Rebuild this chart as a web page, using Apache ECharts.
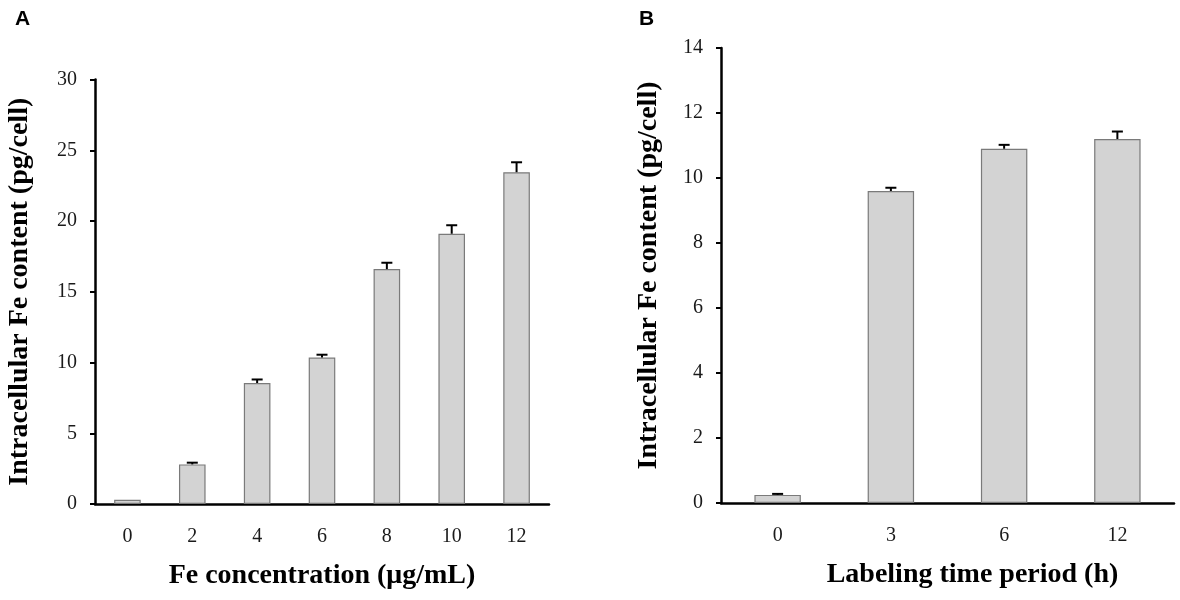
<!DOCTYPE html>
<html>
<head>
<meta charset="utf-8">
<script src="https://cdn.jsdelivr.net/npm/echarts@6/dist/echarts.min.js"></script>
<style>
  html, body { margin: 0; padding: 0; background: #fff; }
  #chart { width: 1180px; height: 600px; }
</style>
</head>
<body>
<div id="chart"></div>
<script>
// panel A: Fe concentration
var concLabels = ['0', '2', '4', '6', '8', '10', '12'];
var concMean = [0.3, 2.8, 8.55, 10.35, 16.6, 19.1, 23.45];
var concErr = [0, 0.12, 0.25, 0.2, 0.45, 0.6, 0.7];

// panel B: labeling time
var timeLabels = ['0', '3', '6', '12'];
var timeMean = [0.25, 9.6, 10.9, 11.2];
var timeErr = [0.03, 0.1, 0.12, 0.23];

var serif = '"Liberation Serif", "Times New Roman", serif';

function errData(mean, err) {
  var out = [];
  for (var i = 0; i < mean.length; i++) {
    out.push([i, mean[i], mean[i] + err[i]]);
  }
  return out;
}

function renderErr(params, api) {
  var lo = api.coord([api.value(0), api.value(1)]);
  var hi = api.coord([api.value(0), api.value(2)]);
  if (hi[1] >= lo[1] - 0.5) return;
  var half = 5.5;
  return {
    type: 'group',
    children: [
      { type: 'line', shape: { x1: lo[0], y1: lo[1], x2: hi[0], y2: hi[1] },
        style: { stroke: '#000', lineWidth: 2 } },
      { type: 'line', shape: { x1: hi[0] - half, y1: hi[1], x2: hi[0] + half, y2: hi[1] },
        style: { stroke: '#000', lineWidth: 2 } }
    ]
  };
}

function xAxisFor(idx, labels, name, pad) {
  return {
    type: 'category',
    gridIndex: idx,
    data: labels,
    name: name,
    nameLocation: 'middle',
    nameGap: 58,
    nameTextStyle: { fontFamily: serif, fontWeight: 'bold', fontSize: 28, color: '#000', padding: pad },
    axisLine: { lineStyle: { color: '#000', width: 2.5 } },
    axisTick: { show: false },
    axisLabel: { fontFamily: serif, fontSize: 20, color: '#1a1a1a', margin: 23 },
    splitLine: { show: false }
  };
}

function yAxisFor(idx, max, interval, gap) {
  return {
    type: 'value',
    gridIndex: idx,
    min: 0,
    max: max,
    interval: interval,
    name: 'Intracellular Fe content (pg/cell)',
    nameLocation: 'middle',
    nameGap: gap,
    nameTextStyle: { fontFamily: serif, fontWeight: 'bold', fontSize: 28, color: '#000' },
    axisLine: { show: true, lineStyle: { color: '#000', width: 2.5 } },
    axisTick: { show: true, inside: false, length: 5, lineStyle: { color: '#000', width: 2 } },
    axisLabel: { fontFamily: serif, fontSize: 20, color: '#1a1a1a', margin: 18 },
    splitLine: { show: false }
  };
}

var barStyle = { color: '#d3d3d3', borderColor: '#7a7a7a', borderWidth: 1.2 };

var myChart = echarts.init(document.getElementById('chart'));
var option = {
  backgroundColor: '#fff',
  animation: false,
  title: [
    { text: 'A', left: 10, top: 4, textStyle: { fontFamily: '"Liberation Sans", Arial, sans-serif', fontWeight: 'bold', fontSize: 21, color: '#000' } },
    { text: 'B', left: 634, top: 4, textStyle: { fontFamily: '"Liberation Sans", Arial, sans-serif', fontWeight: 'bold', fontSize: 21, color: '#000' } }
  ],
  grid: [
    { left: 95, right: 631, top: 79.5, bottom: 96 },
    { left: 721, right: 6, top: 48, bottom: 97 }
  ],
  xAxis: [
    xAxisFor(0, concLabels, 'Fe concentration (μg/mL)', [0, 0, 0, 0]),
    xAxisFor(1, timeLabels, 'Labeling time period (h)', [0, 0, 0, 50])
  ],
  yAxis: [
    yAxisFor(0, 30, 5, 61),
    yAxisFor(1, 14, 2, 58)
  ],
  series: [
    { type: 'bar', xAxisIndex: 0, yAxisIndex: 0, data: concMean, barWidth: '41%', itemStyle: barStyle },
    { type: 'custom', xAxisIndex: 0, yAxisIndex: 0, data: errData(concMean, concErr), renderItem: renderErr, z: 5 },
    { type: 'bar', xAxisIndex: 1, yAxisIndex: 1, data: timeMean, barWidth: '41%', itemStyle: barStyle },
    { type: 'custom', xAxisIndex: 1, yAxisIndex: 1, data: errData(timeMean, timeErr), renderItem: renderErr, z: 5 }
  ]
};
myChart.setOption(option);
</script>
</body>
</html>
